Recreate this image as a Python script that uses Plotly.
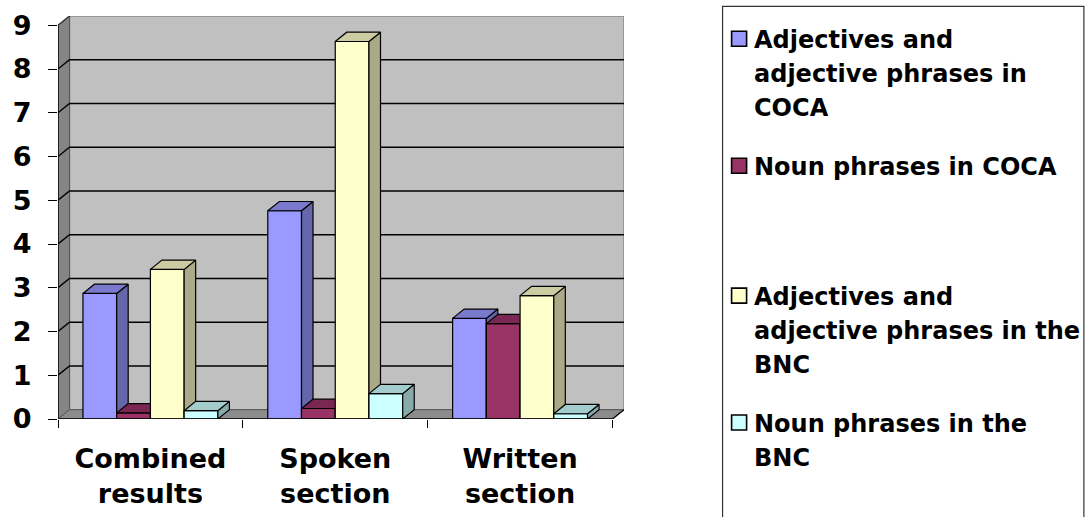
import plotly.graph_objects as go

# ---- data -------------------------------------------------------------
categories = ["Combined<br>results", "Spoken<br>section", "Written<br>section"]
adj_coca = [2.87, 4.76, 2.30]
noun_coca = [0.14, 0.24, 2.18]
adj_bnc = [3.42, 8.63, 2.82]
noun_bnc = [0.19, 0.58, 0.12]
y_ticks = [0, 1, 2, 3, 4, 5, 6, 7, 8, 9]

legend_lines = [
    ["Adjectives and", "adjective phrases in", "COCA"],
    ["Noun phrases in COCA"],
    ["Adjectives and", "adjective phrases in the", "BNC"],
    ["Noun phrases in the", "BNC"],
]

series_values = [adj_coca, noun_coca, adj_bnc, noun_bnc]
series_colors = ["#9999FF", "#993366", "#FFFFCC", "#CCFFFF"]

# ---- geometry of the oblique 3-D look ----------------------------------
W, H = 1088, 517
PLOT_L, PLOT_B = 58, 419            # front-left corner of the floor (px)
PX_PER_CAT = 184.67                 # px per category
PX_PER_UNIT = 43.78                 # px per value unit
DEPTH_PX = (11.5, 9.3)              # oblique offset of the back plane
DX = DEPTH_PX[0] / PX_PER_CAT
DY = DEPTH_PX[1] / PX_PER_UNIT
X0, X1 = -0.5, len(categories) - 0.5
YMAX = max(y_ticks)
BW = 0.1825                         # bar width (category units)

plot_w = (X1 + DX - X0) * PX_PER_CAT
plot_h = (YMAX + DY) * PX_PER_UNIT
M_L, M_B = PLOT_L, H - PLOT_B
M_R = W - PLOT_L - plot_w
M_T = PLOT_B - plot_h

FONT = "DejaVu Sans"


def px_x(px):
    return (px - PLOT_L) / plot_w


def px_y(py):
    return (PLOT_B - py) / plot_h


def shade(hex_color, f):
    h = hex_color.lstrip("#")
    r, g, b = (int(h[i:i + 2], 16) for i in (0, 2, 4))
    return "#%02X%02X%02X" % (int(r * f), int(g * f), int(b * f))


def path(points):
    return "M " + " L ".join(f"{x},{y}" for x, y in points) + " Z"


fig = go.Figure()

# ---- bars: front faces as bars, top/side faces as filled polygons -------
n_series = len(series_values)
for k, (vals, color) in enumerate(zip(series_values, series_colors)):
    offset = -n_series * BW / 2 + k * BW
    name = " ".join(legend_lines[k])
    fig.add_trace(go.Bar(
        x=list(range(len(categories))), y=vals, width=BW, offset=offset,
        marker=dict(color=color, line=dict(color="black", width=1.2)),
        name=name, showlegend=False, hoverinfo="skip", zorder=2 * k,
    ))
    side_x, side_y, top_x, top_y = [], [], [], []
    for i, v in enumerate(vals):
        xl = i + offset
        xr = xl + BW
        side_x += [xr, xr + DX, xr + DX, xr, xr, None]
        side_y += [0, DY, v + DY, v, 0, None]
        top_x += [xl, xr, xr + DX, xl + DX, xl, None]
        top_y += [v, v, v + DY, v + DY, v, None]
    fig.add_trace(go.Scatter(
        x=side_x, y=side_y, mode="lines", fill="toself",
        fillcolor=shade(color, 0.67), line=dict(color="black", width=1.2),
        showlegend=False, hoverinfo="skip", zorder=2 * k + 1,
    ))
    fig.add_trace(go.Scatter(
        x=top_x, y=top_y, mode="lines", fill="toself",
        fillcolor=shade(color, 0.8), line=dict(color="black", width=1.2),
        showlegend=False, hoverinfo="skip", zorder=2 * k + 1,
    ))

# ---- walls, floor and gridlines ----------------------------------------
shapes = []
# back wall
shapes.append(dict(type="path", xref="x", yref="y", layer="below",
                   path=path([(X0 + DX, DY), (X1 + DX, DY), (X1 + DX, YMAX + DY), (X0 + DX, YMAX + DY)]),
                   fillcolor="#C0C0C0", line=dict(color="#8A8A8A", width=1.5)))
# left wall
shapes.append(dict(type="path", xref="x", yref="y", layer="below",
                   path=path([(X0, 0), (X0 + DX, DY), (X0 + DX, YMAX + DY), (X0, YMAX)]),
                   fillcolor="#858585", line=dict(color="#555555", width=1)))
# floor
shapes.append(dict(type="path", xref="x", yref="y", layer="below",
                   path=path([(X0, 0), (X1, 0), (X1 + DX, DY), (X0 + DX, DY)]),
                   fillcolor="#8C8C8C", line=dict(color="#555555", width=1)))
# gridlines running across the left wall and the back wall
for v in y_ticks[1:-1]:
    shapes.append(dict(type="path", xref="x", yref="y", layer="below",
                       path=f"M {X0},{v} L {X0 + DX},{v + DY} L {X1 + DX},{v + DY}",
                       line=dict(color="black", width=1.4)))
# top edge of the left wall
shapes.append(dict(type="line", xref="x", yref="y", layer="below",
                   x0=X0, y0=YMAX, x1=X0 + DX, y1=YMAX + DY,
                   line=dict(color="#333333", width=1.4)))
# front edges: value axis and category axis
shapes.append(dict(type="line", xref="x", yref="y", layer="above",
                   x0=X0, y0=0, x1=X0, y1=YMAX, line=dict(color="black", width=1.4)))
shapes.append(dict(type="line", xref="x", yref="y", layer="above",
                   x0=X0, y0=0, x1=X1, y1=0, line=dict(color="black", width=1.4)))
shapes.append(dict(type="line", xref="x", yref="y", layer="above",
                   x0=X1, y0=0, x1=X1 + DX, y1=DY, line=dict(color="black", width=1.2)))

# ---- legend box -----------------------------------------------------------
shapes.append(dict(type="rect", xref="paper", yref="paper", layer="above",
                   x0=px_x(722), x1=px_x(1083), y0=px_y(530), y1=px_y(6),
                   line=dict(color="#333333", width=1.2), fillcolor="rgba(0,0,0,0)"))

annotations = []
item_first_line = [40, 167, 297, 424]
LINE_STEP = 34
for k, lines in enumerate(legend_lines):
    cy = item_first_line[k]
    shapes.append(dict(type="rect", xref="paper", yref="paper", layer="above",
                       x0=px_x(731), x1=px_x(746), y0=px_y(cy + 6), y1=px_y(cy - 9),
                       fillcolor=series_colors[k], line=dict(color="black", width=1.6)))
    for j, txt in enumerate(lines):
        annotations.append(dict(
            xref="paper", yref="paper", x=px_x(751), y=px_y(cy + j * LINE_STEP),
            xanchor="left", yanchor="middle", text=txt, showarrow=False,
            font=dict(family=FONT, size=24, color="black", weight="bold"),
        ))

fig.update_layout(
    width=W, height=H,
    margin=dict(l=M_L, r=M_R, t=M_T, b=M_B, autoexpand=False),
    paper_bgcolor="white", plot_bgcolor="white",
    barmode="overlay",
    shapes=shapes, annotations=annotations,
    showlegend=False,
    xaxis=dict(
        range=[X0, X1 + DX], tickvals=list(range(len(categories))), ticktext=categories,
        showgrid=False, zeroline=False, showline=False, ticks="", automargin=False,
        tickfont=dict(family=FONT, size=27, color="black", weight="bold"),
        ticklabelstandoff=21,
        minor=dict(tickvals=[X0 + i for i in range(len(categories) + 1)],
                   ticks="outside", ticklen=8, tickcolor="black", tickwidth=1.2, showgrid=False),
    ),
    yaxis=dict(
        range=[0, YMAX + DY], tickvals=y_ticks, ticktext=[str(t) for t in y_ticks],
        showgrid=False, zeroline=False, showline=False, automargin=False,
        ticks="outside", ticklen=9, tickcolor="black", tickwidth=1.2,
        tickfont=dict(family=FONT, size=27, color="black", weight="bold"),
        ticklabelstandoff=11,
    ),
)

fig.write_html("out.html")
